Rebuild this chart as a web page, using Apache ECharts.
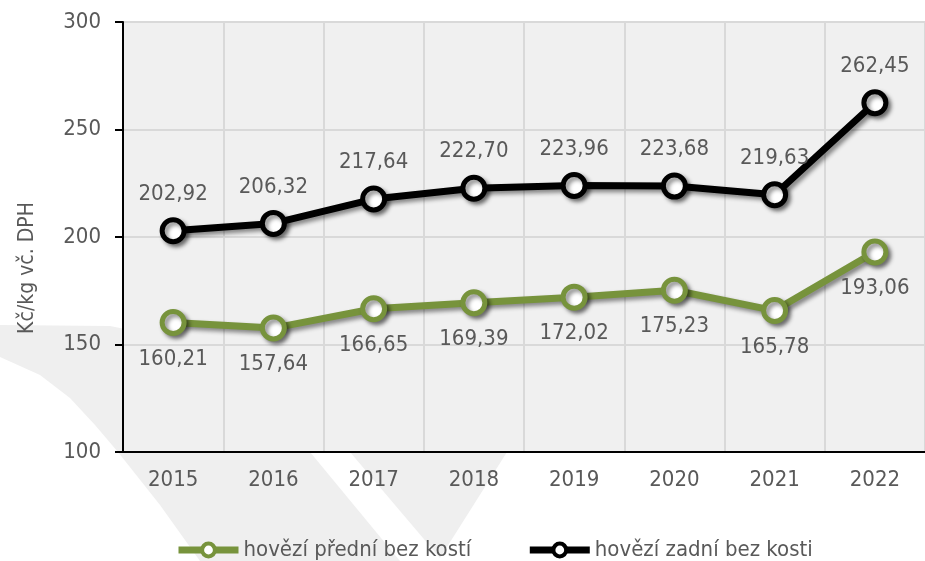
<!DOCTYPE html>
<html>
<head>
<meta charset="utf-8">
<script src="https://cdn.jsdelivr.net/npm/echarts@6/dist/echarts.min.js"></script>
<style>
  html, body { margin: 0; padding: 0; background: #fff; }
  #chart { width: 925px; height: 561px; }
</style>
</head>
<body>
<div id="chart"></div>
<script>
const years = ['2015', '2016', '2017', '2018', '2019', '2020', '2021', '2022']
const predni = [160.21, 157.64, 166.65, 169.39, 172.02, 175.23, 165.78, 193.06]
const zadni = [202.92, 206.32, 217.64, 222.70, 223.96, 223.68, 219.63, 262.45]
const yTicks = [100, 150, 200, 250, 300]

const font = 'DejaVu Sans Condensed'
const textGray = '#595959'
const fmt = v => v.toFixed(2).replace('.', ',')

const shadow = {
  shadowColor: 'rgba(0,0,0,0.45)',
  shadowBlur: 4,
  shadowOffsetX: 3,
  shadowOffsetY: 3
}

function lineSeries (name, data, color, labelPos) {
  return {
    name: name,
    type: 'line',
    data: data,
    symbol: 'circle',
    symbolSize: 22,
    lineStyle: Object.assign({ color: color, width: 7 }, shadow),
    itemStyle: Object.assign({ color: '#fff', borderColor: color, borderWidth: 5 }, shadow),
    label: {
      show: true,
      position: labelPos,
      distance: 12,
      color: textGray,
      fontFamily: font,
      fontSize: 22,
      formatter: p => fmt(p.value)
    },
    z: 3
  }
}

const chart = echarts.init(document.getElementById('chart'))
chart.setOption({
  animation: false,
  backgroundColor: '#fff',
  grid: {
    left: 123,
    right: -6,
    top: 22,
    bottom: 109,
    show: true,
    backgroundColor: '#f0f0f0',
    borderWidth: 0,
    z: 0
  },
  graphic: [
    {
      // light watermark shapes behind the plot
      type: 'polygon',
      z: -10,
      shape: {
        points: [[0, 325], [110, 326], [180, 340], [260, 390], [310, 452], [400, 561],
          [200, 561], [160, 505], [118, 452], [95, 425], [70, 398], [40, 375], [0, 357]]
      },
      style: { fill: '#efefef' }
    },
    {
      type: 'polygon',
      z: -10,
      shape: { points: [[330, 430], [520, 430], [507, 452], [440, 558], [350, 452]] },
      style: { fill: '#efefef' }
    },
    {
      type: 'text',
      x: 28,
      y: 268,
      rotation: Math.PI / 2,
      style: {
        text: 'Kč/kg vč. DPH',
        fill: textGray,
        font: '21px "' + font + '"',
        align: 'center',
        verticalAlign: 'middle'
      }
    }
  ],
  legend: {
    left: 175,
    top: 539,
    padding: 0,
    itemWidth: 60,
    itemHeight: 16,
    itemGap: 55,
    lineStyle: { width: 7 },
    itemStyle: { borderWidth: 4 },
    textStyle: { color: textGray, fontFamily: font, fontSize: 22 },
    data: ['hovězí přední bez kostí', 'hovězí zadní bez kosti']
  },
  xAxis: {
    type: 'category',
    data: years,
    boundaryGap: true,
    axisLine: { lineStyle: { color: '#000', width: 2 } },
    axisTick: { show: false },
    axisLabel: { color: textGray, fontFamily: font, fontSize: 22, margin: 17 },
    splitLine: { show: true, lineStyle: { color: '#d9d9d9', width: 2 } }
  },
  yAxis: {
    type: 'value',
    min: yTicks[0],
    max: yTicks[yTicks.length - 1],
    interval: 50,
    axisLine: { show: true, lineStyle: { color: '#000', width: 2 } },
    axisTick: { show: true, length: 8, lineStyle: { color: '#000', width: 2 } },
    axisLabel: { color: textGray, fontFamily: font, fontSize: 22, margin: 22 },
    splitLine: { show: true, lineStyle: { color: '#d9d9d9', width: 2 } }
  },
  series: [
    lineSeries('hovězí přední bez kostí', predni, '#77933c', 'bottom'),
    lineSeries('hovězí zadní bez kosti', zadni, '#000000', 'top')
  ]
})
</script>
</body>
</html>
